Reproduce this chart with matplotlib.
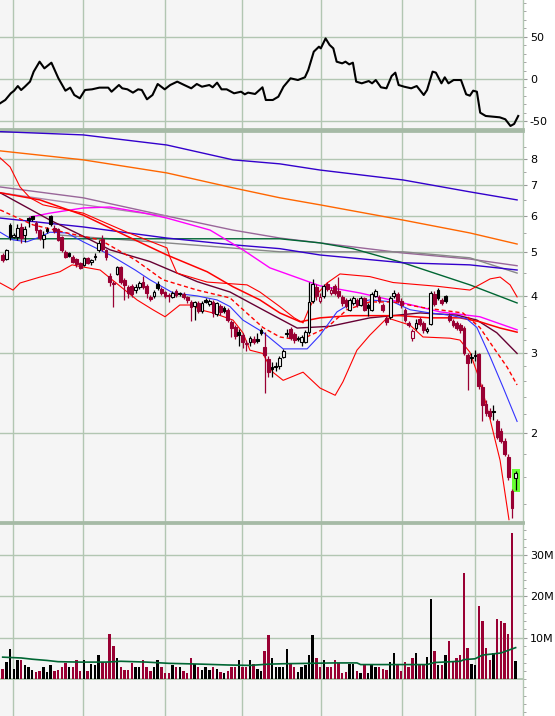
import matplotlib
matplotlib.use("Agg")
import matplotlib.pyplot as plt
from matplotlib.ticker import FixedLocator, FixedFormatter, NullFormatter
from matplotlib.patches import Rectangle
import numpy as np

# ---------------- DATA ----------------
opens = [4.92, 4.82, 5.72, 5.40, 5.39, 5.66, 5.45, 5.92, 5.98, 5.78,
         5.58, 5.33, 5.62, 6.00, 5.65, 5.62, 5.39, 5.00, 4.97, 4.88,
         4.82, 4.72, 4.68, 4.85, 4.76, 4.86, 5.05, 5.34, 5.05, 4.42,
         4.24, 4.48, 4.62, 4.34, 4.18, 4.20, 4.12, 4.18, 4.30, 4.20,
         3.98, 3.99, 4.24, 4.14, 4.07, 4.02, 3.98, 4.10, 4.06, 4.04,
         3.98, 3.88, 3.80, 3.86, 3.70, 3.92, 3.84, 3.88, 3.65, 3.80,
         3.76, 3.72, 3.50, 3.42, 3.34, 3.28, 3.13, 3.17, 3.22, 3.21,
         3.36, 3.09, 2.91, 2.79, 2.81, 2.80, 2.94, 3.31, 3.38, 3.30,
         3.24, 3.17, 3.17, 3.33, 3.90, 4.18, 3.90, 4.00, 4.25, 4.05,
         4.20, 4.10, 3.98, 3.92, 3.72, 3.85, 3.92, 3.83, 3.95, 3.82,
         3.72, 4.00, 3.98, 3.82, 3.58, 3.60, 4.00, 4.04, 3.90, 3.72,
         3.48, 3.23, 3.40, 3.56, 3.48, 3.35, 3.47, 4.04, 4.12, 3.92,
         3.99, 3.62, 3.52, 3.48, 3.45, 3.40, 2.96, 2.94, 2.97, 2.98,
         2.52, 2.32, 2.24, 2.24, 2.12, 2.02, 1.92, 1.77, 1.49, 1.59]
highs = [4.97, 5.08, 5.78, 5.50, 5.75, 5.78, 5.70, 5.95, 6.00, 5.85,
         5.62, 5.55, 5.66, 6.02, 5.72, 5.65, 5.42, 5.04, 5.00, 4.92,
         4.85, 4.75, 4.88, 4.88, 4.82, 4.98, 5.30, 5.45, 5.08, 4.50,
         4.32, 4.65, 4.65, 4.38, 4.22, 4.24, 4.25, 4.32, 4.42, 4.24,
         4.02, 4.12, 4.32, 4.18, 4.10, 4.05, 4.10, 4.14, 4.09, 4.08,
         4.00, 3.92, 3.90, 3.90, 3.90, 3.95, 3.94, 3.92, 3.88, 3.84,
         3.80, 3.76, 3.54, 3.46, 3.38, 3.32, 3.20, 3.27, 3.26, 3.32,
         3.40, 3.33, 2.95, 2.86, 2.86, 2.95, 3.06, 3.38, 3.42, 3.33,
         3.27, 3.28, 3.36, 4.30, 4.35, 4.25, 4.05, 4.25, 4.30, 4.18,
         4.24, 4.40, 4.02, 3.96, 3.96, 4.00, 3.96, 4.00, 3.98, 3.86,
         4.08, 4.14, 4.02, 3.86, 3.62, 4.00, 4.12, 4.08, 3.96, 3.76,
         3.52, 3.38, 3.56, 3.60, 3.52, 3.42, 4.10, 4.10, 4.16, 3.96,
         4.02, 3.66, 3.56, 3.52, 3.48, 3.44, 3.00, 3.00, 3.05, 3.00,
         2.56, 2.36, 2.27, 2.30, 2.15, 2.05, 1.95, 1.80, 1.51, 1.65]
lows = [4.75, 4.80, 5.31, 5.35, 5.30, 5.23, 5.25, 5.68, 5.85, 5.50,
        5.30, 5.10, 5.50, 5.70, 5.50, 5.28, 5.00, 4.85, 4.86, 4.72,
        4.63, 4.58, 4.65, 4.70, 4.68, 4.80, 5.00, 5.02, 4.80, 4.20,
        3.79, 4.45, 4.25, 3.92, 3.95, 3.98, 4.05, 4.15, 4.15, 3.95,
        3.90, 3.96, 4.12, 4.02, 3.95, 3.88, 3.95, 3.98, 4.00, 3.94,
        3.85, 3.52, 3.55, 3.66, 3.66, 3.86, 3.80, 3.60, 3.62, 3.64,
        3.66, 3.50, 3.25, 3.22, 3.10, 3.07, 3.02, 3.10, 3.14, 3.15,
        3.28, 2.45, 2.65, 2.65, 2.74, 2.77, 2.92, 3.25, 3.20, 3.15,
        3.18, 3.10, 3.15, 3.30, 3.85, 3.92, 3.85, 3.95, 4.10, 4.02,
        4.02, 3.96, 3.80, 3.76, 3.70, 3.82, 3.78, 3.80, 3.70, 3.62,
        3.70, 3.98, 3.86, 3.68, 3.46, 3.56, 3.96, 3.86, 3.76, 3.50,
        3.42, 3.18, 3.37, 3.44, 3.32, 3.32, 3.45, 3.80, 3.92, 3.82,
        3.86, 3.50, 3.42, 3.36, 3.32, 2.96, 2.49, 2.85, 2.88, 2.50,
        2.12, 2.18, 2.15, 2.14, 1.94, 1.90, 1.78, 1.58, 1.30, 1.50]
closes = [4.80, 5.05, 5.39, 5.45, 5.64, 5.36, 5.61, 5.88, 5.90, 5.58,
          5.36, 5.44, 5.55, 5.75, 5.55, 5.31, 5.05, 4.88, 4.90, 4.75,
          4.70, 4.61, 4.85, 4.73, 4.80, 4.87, 5.23, 5.06, 4.88, 4.29,
          4.28, 4.62, 4.30, 4.22, 4.06, 4.04, 4.18, 4.27, 4.18, 4.05,
          3.94, 4.08, 4.17, 4.06, 4.00, 3.99, 4.06, 4.02, 4.03, 3.97,
          3.92, 3.79, 3.87, 3.70, 3.86, 3.88, 3.90, 3.66, 3.85, 3.69,
          3.70, 3.54, 3.40, 3.27, 3.29, 3.17, 3.16, 3.23, 3.17, 3.19,
          3.31, 2.96, 2.72, 2.76, 2.79, 2.92, 3.03, 3.30, 3.23, 3.20,
          3.21, 3.25, 3.33, 3.88, 4.25, 4.00, 3.98, 4.20, 4.14, 4.12,
          4.06, 4.00, 3.85, 3.80, 3.92, 3.95, 3.82, 3.95, 3.73, 3.76,
          4.04, 4.10, 3.90, 3.72, 3.50, 3.95, 4.06, 3.90, 3.82, 3.54,
          3.45, 3.35, 3.48, 3.47, 3.36, 3.39, 4.05, 3.84, 3.95, 3.85,
          3.89, 3.54, 3.46, 3.40, 3.36, 2.99, 2.85, 2.92, 2.95, 2.53,
          2.30, 2.21, 2.18, 2.22, 1.96, 1.92, 1.80, 1.60, 1.37, 1.63]
volumes = [2.5, 4.2, 7.2, 2.5, 4.7, 4.5, 3.3, 3.0, 2.3, 1.8,
           2.0, 2.8, 1.8, 3.3, 2.0, 2.3, 3.0, 4.0, 3.0, 2.8,
           4.5, 2.0, 4.7, 2.0, 3.7, 3.5, 5.7, 4.2, 3.9, 10.8,
           8.1, 5.0, 2.8, 2.3, 2.3, 4.0, 3.0, 3.0, 4.5, 2.8,
           2.0, 2.8, 4.7, 2.8, 1.5, 1.5, 3.3, 3.0, 3.0, 2.0,
           1.5, 5.2, 3.7, 3.0, 2.3, 2.8, 2.3, 3.0, 2.5, 1.8,
           1.5, 2.0, 3.0, 3.0, 4.5, 3.0, 3.0, 4.7, 3.7, 2.5,
           2.0, 6.9, 10.6, 5.2, 2.8, 2.8, 3.0, 7.2, 3.7, 2.8,
           1.8, 3.0, 3.3, 5.7, 10.6, 5.0, 2.8, 4.5, 3.0, 3.0,
           4.7, 3.9, 1.5, 1.8, 3.7, 3.7, 2.0, 1.5, 3.7, 1.5,
           3.3, 2.8, 3.0, 2.5, 2.3, 4.2, 6.4, 3.7, 2.0, 4.2,
           3.0, 5.2, 6.2, 3.5, 3.3, 5.4, 19.3, 6.9, 3.3, 3.3,
           5.7, 9.1, 4.2, 5.2, 5.9, 25.7, 7.4, 3.7, 3.3, 17.6,
           14.0, 7.6, 4.5, 6.2, 14.5, 14.0, 13.5, 10.9, 35.4, 4.4]

# volume moving average (millions), knots at bar index
vma_x = [0, 5, 8, 12, 15, 21, 28, 32, 39, 45, 54, 61, 67, 72, 76, 90, 96, 97, 115, 117, 124, 125, 128, 130, 135, 139]
vma_v = [5.3, 5.1, 4.8, 4.5, 4.2, 4.1, 4.1, 4.3, 4.1, 3.8, 3.6, 3.4, 3.3, 3.6, 3.7, 3.9, 3.9, 3.5, 3.5, 4.0, 4.3, 4.7, 4.9, 5.8, 6.3, 7.6]

# oscillator (top panel)
osc_x = [-0.7, 0.7, 2.2, 3.1, 4.1, 5.0, 6.0, 7.4, 8.4, 10.0,
         11.3, 13.2, 15.1, 17.0, 18.3, 19.4, 20.9, 22.3, 24.2, 26.2,
         28.6, 29.5, 31.5, 32.4, 33.8, 35.3, 36.7, 37.7, 39.1, 40.6,
         42.0, 43.9, 45.4, 47.3, 49.2, 51.1, 52.6, 54.0, 56.0, 56.9,
         58.1, 59.3, 60.7, 62.7, 64.6, 65.6, 66.5, 68.4, 70.4, 71.3,
         73.2, 74.7, 76.1, 78.0, 80.0, 81.9, 82.8, 84.3, 85.7, 86.2,
         87.5, 88.6, 89.6, 90.5, 92.0, 92.9, 93.9, 94.9, 95.8, 97.3,
         99.2, 100.1, 101.1, 102.5, 104.0, 105.4, 106.4, 107.3, 108.8, 110.7,
         112.2, 114.1, 115.0, 116.5, 117.4, 118.9, 119.8, 120.8, 122.2, 124.2,
         125.6, 126.6, 127.5, 128.5, 129.4, 130.9, 132.8, 134.7, 136.2, 137.6,
         138.6, 139.7]
osc_v = [-28.7, -24.8, -16.9, -13.8, -8.3, -13.0, -9.1, -3.1, 8.7, 20.5,
         12.6, 19.3, 0.8, -13.8, -10.2, -18.9, -22.8, -13.0, -12.2, -10.2,
         -10.2, -15.0, -7.1, -11.0, -12.2, -16.1, -12.2, -13.0, -24.0, -18.9,
         -5.9, -12.2, -7.1, -3.1, -7.1, -11.0, -5.9, -9.1, -7.1, -9.8,
         -4.3, -12.2, -12.2, -16.9, -15.0, -18.1, -16.1, -17.7, -9.8, -24.8,
         -24.8, -20.9, -9.1, 0.8, -1.2, 2.0, 10.6, 32.3, 38.2, 36.2,
         48.0, 40.2, 36.2, 20.5, 18.5, 20.5, 17.3, 19.3, -3.1, -5.1,
         -2.4, -5.1, -1.2, -9.8, -11.0, 3.5, 7.5, -7.1, -9.1, -11.0,
         -8.3, -18.9, -13.0, 8.7, 7.5, -5.1, 2.0, -5.1, -1.2, -1.2,
         -18.1, -19.7, -13.8, -15.0, -39.8, -43.7, -44.5, -45.3, -47.6, -55.5,
         -53.1, -43.7]

# overlay lines (price panel), knots at bar index
long_x = [-0.7, 21.8, 44.5, 62.4, 75.1, 86.0, 108.5, 126.6, 139.4]
ma_top_v = [9.18, 9.03, 8.58, 7.96, 7.80, 7.56, 7.19, 6.77, 6.50]
orange_v = [8.33, 7.96, 7.45, 6.91, 6.57, 6.34, 5.87, 5.50, 5.20]
purple_v = [6.94, 6.57, 5.99, 5.58, 5.36, 5.23, 4.97, 4.82, 4.66]
indigo_v = [5.93, 5.67, 5.36, 5.18, 5.08, 4.92, 4.73, 4.68, 4.56]

purple2_x = [-0.7, 12.8, 35.9, 44.5]
purple2_v = [6.74, 6.50, 6.11, 5.99]

gray_x = [15.5, 44.5, 75.1, 108.5, 126.6, 139.4]
gray_v = [5.44, 5.23, 5.00, 5.00, 4.85, 4.49]

green_x = [-0.7, 75.1, 86.0, 94.9, 108.5, 126.6, 139.4]
green_v = [5.34, 5.34, 5.23, 5.08, 4.73, 4.23, 3.86]

magenta_x = [7.4, 12.8, 21.8, 29.1, 37.2, 44.5, 56.2, 65.1, 72.4, 86.0, 96.8, 106.3, 118.5, 129.3, 139.4]
magenta_v = [5.96, 6.08, 6.24, 6.27, 6.11, 5.93, 5.58, 5.05, 4.61, 4.21, 4.06, 3.90, 3.69, 3.60, 3.37]

maroon_x = [-0.7, 12.8, 21.8, 29.1, 39.9, 52.7, 61.6, 70.5, 79.8, 88.7, 99.5, 113.1, 123.1, 128.5, 133.9, 139.4]
maroon_v = [6.74, 5.87, 5.41, 5.05, 4.76, 4.30, 4.08, 3.73, 3.40, 3.43, 3.58, 3.67, 3.63, 3.54, 3.32, 2.99]

bbu_x = [-0.7, 2.0, 4.7, 7.4, 10.9, 17.4, 21.8, 29.1, 33.7, 44.5, 45.3, 47.2, 55.4, 66.2, 69.7,
         75.1, 79.0, 81.4, 83.0, 85.0, 87.9, 91.4, 99.5, 105.8, 117.7, 126.6, 132.1, 134.8, 137.5, 139.4]
bbu_v = [8.04, 7.68, 6.94, 6.57, 6.34, 6.18, 6.08, 5.73, 5.52, 5.10, 4.87, 4.49, 4.29, 4.23, 4.08,
         3.79, 3.58, 3.49, 3.75, 4.02, 4.27, 4.47, 4.41, 4.28, 4.20, 4.12, 4.36, 4.40, 4.23, 3.98]

bbl_x = [-0.7, 2.8, 4.7, 10.1, 15.5, 18.8, 21.8, 26.4, 36.4, 40.7, 44.0, 48.0, 51.3, 53.5, 57.0,
         62.4, 65.1, 67.0, 70.5, 73.2, 76.0, 81.4, 86.0, 90.1, 92.2, 96.0, 99.5, 104.2, 110.4,
         113.9, 121.2, 123.9, 126.6, 129.3, 132.1, 134.8, 137.2]
bbl_v = [4.27, 4.12, 4.27, 4.40, 4.52, 4.68, 4.63, 4.56, 3.92, 3.73, 3.60, 3.82, 3.82, 3.73, 3.67,
         3.54, 3.32, 3.04, 2.99, 2.72, 2.61, 2.72, 2.51, 2.42, 2.59, 3.04, 3.28, 3.58, 3.45,
         3.25, 3.23, 3.20, 3.01, 2.61, 2.14, 1.74, 1.29]

redma_x = [-0.7, 10.1, 21.8, 33.7, 44.5, 55.4, 62.4, 69.7, 75.1, 80.6, 86.0, 94.1, 107.7, 115.8, 123.9, 129.3, 134.8, 139.4]
redma_v = [6.74, 6.50, 6.02, 5.41, 4.92, 4.52, 4.19, 3.92, 3.67, 3.51, 3.58, 3.62, 3.62, 3.58, 3.58, 3.51, 3.40, 3.33]

rdash_x = [-0.7, 8.2, 17.4, 26.4, 35.9, 43.4, 52.7, 61.6, 70.5, 75.1, 80.6, 87.9, 93.3, 99.5, 105.8, 113.9, 124.7, 129.3, 132.9, 136.7, 139.4]
rdash_v = [6.18, 5.73, 5.50, 5.31, 4.80, 4.34, 4.12, 3.96, 3.41, 3.25, 3.20, 3.41, 3.73, 3.88, 3.88, 3.77, 3.67, 3.41, 3.09, 2.79, 2.55]

blue_x = [-0.7, 2.8, 6.6, 10.1, 12.8, 17.4, 21.8, 29.1, 35.9, 39.9,
          46.2, 52.7, 58.1, 61.6, 65.1, 70.5, 76.0, 82.5, 86.0, 90.6,
          94.1, 99.5, 105.8, 110.4, 115.8, 121.2, 125.8, 128.5, 132.1, 135.6, 139.4]
blue_v = [5.52, 5.31, 5.26, 5.39, 5.52, 5.50, 5.26, 4.92, 4.56, 4.34,
          4.06, 4.00, 3.92, 3.79, 3.54, 3.33, 3.06, 3.06, 3.28, 3.69,
          3.84, 3.92, 3.88, 3.73, 3.67, 3.63, 3.56, 3.41, 2.94, 2.52, 2.12]

price_ticks = [2, 3, 4, 5, 6, 7, 8]
price_labels = ["2", "3", "4", "5", "6", "7", "8"]
osc_ticks = [50, 0, -50]
osc_labels = ["50", "0", "-50"]
vol_ticks = [10, 20, 30]
vol_labels = ["10M", "20M", "30M"]

# ---------------- STYLE ----------------
BG = '#f5f5f5'
GRID = '#b2c6b2'
SEP = '#a6baa6'
RED = '#990033'
month_lines = [2.87, 21.84, 44.1, 64.9, 86.2, 108.1, 128.1]

fig = plt.figure(figsize=(5.55, 7.16), dpi=100, facecolor='white')
W = 523 / 555
ax_o = fig.add_axes([0, 1 - 129 / 716, W, 129 / 716])
ax_p = fig.add_axes([0, 1 - 522 / 716, W, 391 / 716])
ax_v = fig.add_axes([0, 0, W, 193 / 716])


def style(ax):
    ax.set_facecolor(BG)
    ax.set_xlim(-0.73, 141.0)
    for xv in month_lines:
        ax.axvline(xv, color=GRID, lw=1.0, zorder=0.5)
    ax.set_xticks([])
    ax.spines['left'].set_visible(False)
    ax.spines['right'].set_color(GRID)
    ax.spines['right'].set_linewidth(1.0)
    for s in ('top', 'bottom'):
        ax.spines[s].set_color(SEP)
        ax.spines[s].set_linewidth(2.0)
    ax.yaxis.tick_right()
    ax.tick_params(axis='y', which='major', length=3, color='#999999', labelsize=8, pad=2,
                   labelcolor='black')
    ax.tick_params(axis='y', which='minor', length=2, color='#999999')


# top oscillator
style(ax_o)
ax_o.spines['top'].set_visible(False)
ax_o.set_ylim(-59.1, 93.4)
for t in osc_ticks:
    ax_o.axhline(t, color=GRID, lw=1.0, zorder=0.5)
ax_o.yaxis.set_major_locator(FixedLocator(osc_ticks))
ax_o.yaxis.set_major_formatter(FixedFormatter(osc_labels))
ax_o.yaxis.set_minor_locator(FixedLocator([v for v in range(-50, 91, 10) if v not in osc_ticks]))
ax_o.plot(osc_x, osc_v, color='black', lw=1.5, zorder=3)

# price panel
style(ax_p)
ax_p.set_yscale('log')
ax_p.set_ylim(1.275, 9.21)
for t in price_ticks:
    ax_p.axhline(t, color=GRID, lw=1.0, zorder=0.5)
ax_p.yaxis.set_major_locator(FixedLocator(price_ticks))
ax_p.yaxis.set_major_formatter(FixedFormatter(price_labels))
minor_p = [1.4, 1.6, 1.8, 2.2, 2.4, 2.6, 2.8, 3.2, 3.4, 3.6, 3.8, 4.5, 5.5, 6.5, 7.5, 8.5]
ax_p.yaxis.set_minor_locator(FixedLocator(minor_p))
ax_p.yaxis.set_minor_formatter(NullFormatter())

lines = [
    (long_x, ma_top_v, '#3300cc', 1.0, '-'),
    (long_x, orange_v, '#ff6600', 1.0, '-'),
    (long_x, purple_v, '#996699', 1.0, '-'),
    (purple2_x, purple2_v, '#aa88aa', 1.0, '-'),
    (gray_x, gray_v, '#888888', 1.0, '-'),
    (green_x, green_v, '#006633', 1.0, '-'),
    (long_x, indigo_v, '#3300cc', 1.0, '-'),
    (magenta_x, magenta_v, '#ff00ff', 1.0, '-'),
    (maroon_x, maroon_v, '#660033', 1.0, '-'),
    (bbu_x, bbu_v, '#ff0000', 0.8, '-'),
    (bbl_x, bbl_v, '#ff0000', 0.8, '-'),
    (redma_x, redma_v, '#ff0000', 1.1, '-'),
    (blue_x, blue_v, '#3333ff', 0.8, '-'),
]
for lx, lv, col, lw, ls in lines:
    ax_p.plot(lx, lv, color=col, lw=lw, ls=ls, zorder=3)
ax_p.plot(rdash_x, rdash_v, color='#ff0000', lw=1.0, dashes=(3, 2), zorder=3)

N = len(closes)
# highlight of the last bar
ax_p.add_patch(Rectangle((N - 1 - 1.1, lows[-1] * 0.99), 2.2,
                         highs[-1] * 1.012 - lows[-1] * 0.99,
                         facecolor='#66ff33', edgecolor='none', zorder=3.5))

vol_colors = []
for i in range(N):
    o, h, l, c = opens[i], highs[i], lows[i], closes[i]
    ref = closes[i - 1] if i > 0 else o
    col = 'black' if c > ref else RED
    vol_colors.append(col)
    filled = c < o
    ax_p.vlines(i, l, h, color=col, lw=0.9, zorder=4)
    bot, top = min(o, c), max(o, c)
    if top / bot < 1.005:
        top = bot * 1.005
    ax_p.add_patch(Rectangle((i - 0.37, bot), 0.74, top - bot,
                             facecolor=col if filled else BG, edgecolor=col,
                             lw=0.8, zorder=5))

# volume panel
style(ax_v)
ax_v.spines['bottom'].set_visible(False)
ax_v.set_ylim(-8.96, 37.8)
for t in [0] + vol_ticks:
    ax_v.axhline(t, color=GRID, lw=1.0 if t else 1.4, zorder=0.5)
ax_v.yaxis.set_major_locator(FixedLocator(vol_ticks))
ax_v.yaxis.set_major_formatter(FixedFormatter(vol_labels))
ax_v.yaxis.set_minor_locator(FixedLocator([v for v in range(-8, 37, 2) if v not in vol_ticks]))
ax_v.bar(np.arange(N), volumes, width=0.66, color=vol_colors, zorder=3)
ax_v.plot(vma_x, vma_v, color='#006633', lw=1.2, zorder=4)

fig.savefig("out.png", dpi=100, facecolor='white')
